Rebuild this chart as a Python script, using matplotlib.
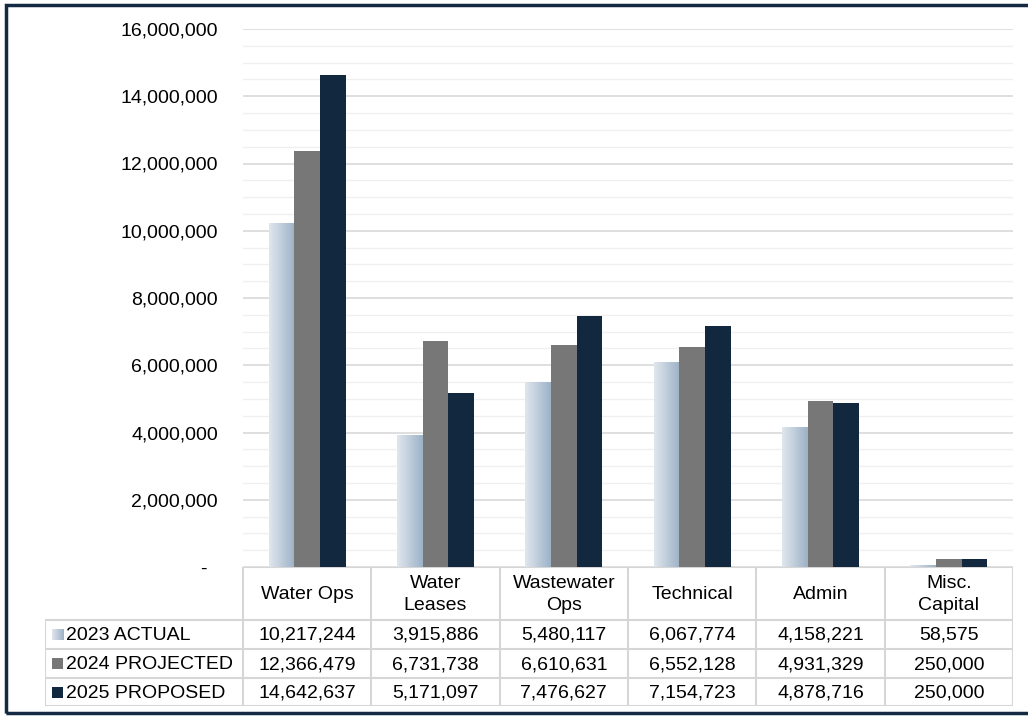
import matplotlib.pyplot as plt
import numpy as np
from matplotlib.colors import LinearSegmentedColormap
from matplotlib.patches import Rectangle
from matplotlib.ticker import FuncFormatter, MultipleLocator

plt.rcParams['font.family'] = ['Liberation Sans', 'DejaVu Sans']

# budget data by department
categories = ['Water Ops', 'Water\nLeases', 'Wastewater\nOps', 'Technical', 'Admin', 'Misc.\nCapital']
series = ['2023 ACTUAL', '2024 PROJECTED', '2025 PROPOSED']
actual_2023 = [10217244, 3915886, 5480117, 6067774, 4158221, 58575]
projected_2024 = [12366479, 6731738, 6610631, 6552128, 4931329, 250000]
proposed_2025 = [14642637, 5171097, 7476627, 7154723, 4878716, 250000]

navy = '#12283f'
gray = '#777777'
grad = LinearSegmentedColormap.from_list('grad', ['#e0e6ed', '#9db2c7'])
grid_c = '#d9d9d9'

W, H = 1028, 718
fig = plt.figure(figsize=(W / 100, H / 100), dpi=100)

# pixel helpers
def fx(px):
    return px / W

def fy(py):
    return 1 - py / H

x_left, x_right = 243, 1013
y_top, y_zero = 29, 567

ax = fig.add_axes([fx(x_left), fy(y_zero), fx(x_right) - fx(x_left), fy(y_top) - fy(y_zero)])
n = len(categories)
x = np.arange(n)
bw = 0.2

# 2023 bars get a left-to-right gradient fill
g = np.linspace(0, 1, 64).reshape(1, -1)
for xi, v in zip(x, actual_2023):
    ax.imshow(g, cmap=grad, extent=[xi - 1.5 * bw, xi - 0.5 * bw, 0, v],
              aspect='auto', zorder=3, interpolation='bilinear')
ax.bar(x, projected_2024, bw, color=gray, zorder=3)
ax.bar(x + bw, proposed_2025, bw, color=navy, zorder=3)

ax.set_xlim(-0.5, n - 0.5)
ax.set_ylim(0, 16000000)
ax.yaxis.set_major_locator(MultipleLocator(2000000))
ax.yaxis.set_minor_locator(MultipleLocator(500000))
ax.yaxis.set_major_formatter(FuncFormatter(lambda v, p: '-  ' if v == 0 else f'{v:,.0f}'))
ax.grid(axis='y', which='major', color=grid_c, lw=1.2, zorder=0)
ax.grid(axis='y', which='minor', color='#f0f0f0', lw=1.0, zorder=0)
ax.tick_params(axis='y', which='both', length=0, pad=18, labelsize=14)
ax.tick_params(axis='x', length=0, labelbottom=False)
for s in ax.spines.values():
    s.set_visible(False)

# data table under the chart
t_left, t_top, t_bot = 45, 567, 706
row_y = [567, 620, 649, 678, 706]
unit = (x_right - x_left) / n
tx0 = -0.5 - (x_left - t_left) / unit
tab = fig.add_axes([fx(t_left), fy(t_bot), fx(x_right) - fx(t_left), fy(t_top) - fy(t_bot)])
tab.set_xlim(tx0, n - 0.5)
tab.set_ylim(t_bot, t_top)
tab.axis('off')

lc = '#d6d6d6'
lw = 1.5
# horizontal lines
tab.plot([-0.5, n - 0.5], [row_y[0], row_y[0]], color=lc, lw=lw)
for yy in row_y[1:]:
    tab.plot([tx0, n - 0.5], [yy, yy], color=lc, lw=lw)
# vertical lines
tab.plot([tx0, tx0], [row_y[1], row_y[-1]], color=lc, lw=lw)
for i in range(n + 1):
    tab.plot([i - 0.5, i - 0.5], [row_y[0], row_y[-1]], color=lc, lw=lw)

fs = 14
for i, c in enumerate(categories):
    tab.text(i, (row_y[0] + row_y[1]) / 2 + 1, c, ha='center', va='center',
             fontsize=fs, linespacing=1.4)

rows = [actual_2023, projected_2024, proposed_2025]
for r, (name, vals) in enumerate(zip(series, rows)):
    yc = (row_y[r + 1] + row_y[r + 2]) / 2
    for i, v in enumerate(vals):
        tab.text(i, yc + 1, f'{v:,}', ha='center', va='center', fontsize=fs)
    tab.text(tx0 + 21 / unit, yc + 1, name, ha='left', va='center', fontsize=fs)

# legend keys in the label column
kx0 = tx0 + 7 / unit
kx1 = tx0 + 18 / unit
for r in range(3):
    yc = (row_y[r + 1] + row_y[r + 2]) / 2
    if r == 0:
        tab.imshow(g, cmap=grad, extent=[kx0, kx1, yc + 5.5, yc - 5.5],
                   aspect='auto', interpolation='bilinear')
    else:
        tab.add_patch(Rectangle((kx0, yc - 5.5), kx1 - kx0, 11,
                                color=[gray, navy][r - 1], lw=0))
tab.set_xlim(tx0, n - 0.5)
tab.set_ylim(t_bot, t_top)

# dark frame around the whole figure
fig.patches.append(Rectangle((fx(6), fy(713)), 1.05, fy(5) - fy(713), transform=fig.transFigure,
                             fill=False, edgecolor='#142a42', lw=2.5))

fig.savefig('out.png', dpi=100)
